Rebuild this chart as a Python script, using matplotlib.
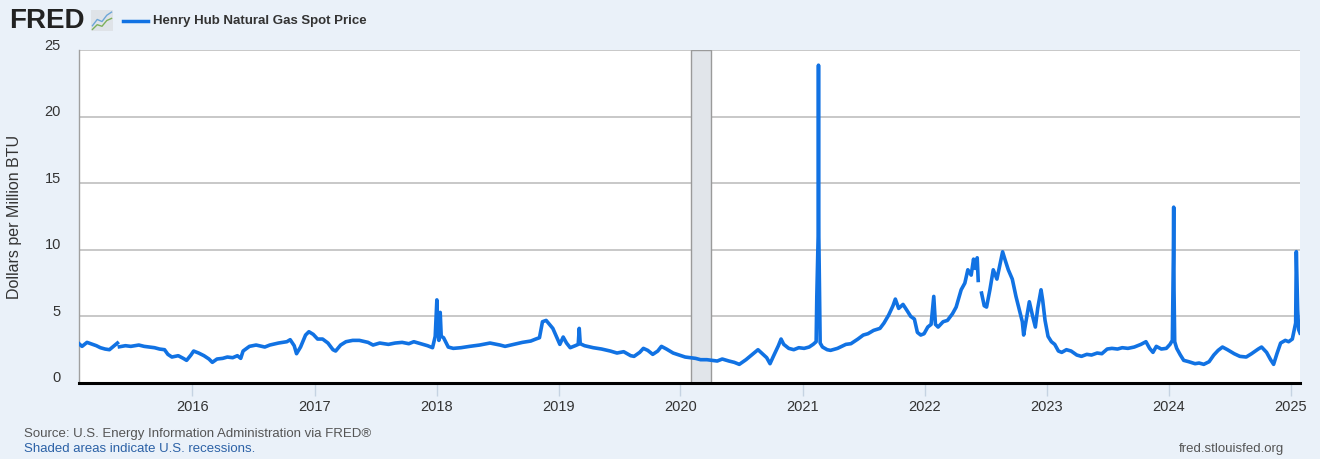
import matplotlib
matplotlib.use("Agg")
import matplotlib.pyplot as plt
import matplotlib.dates as mdates
from matplotlib.transforms import ScaledTranslation
import numpy as np
import pandas as pd

plt.rcParams['font.family'] = ['Liberation Sans', 'DejaVu Sans']

series_name = "Henry Hub Natural Gas Spot Price"
y_label = "Dollars per Million BTU"
source_text = "Source: U.S. Energy Information Administration via FRED®"
recession_note = "Shaded areas indicate U.S. recessions."
site_text = "fred.stlouisfed.org"

recession_start = "2020-02-01"
recession_end = "2020-04-01"

y_ticks = [0, 5, 10, 15, 20, 25]
x_tick_years = list(range(2016, 2026))

dates = [
    "2015-01-27", "2015-02-05", "2015-02-20", "2015-03-03", "2015-03-20", "2015-04-01", "2015-04-15", "2015-04-28",
    "2015-05-10", "2015-05-22", "2015-05-26", "2015-05-28", "2015-06-15", "2015-07-01", "2015-07-25", "2015-08-10",
    "2015-08-25", "2015-09-10", "2015-09-25", "2015-10-10", "2015-10-20", "2015-11-01", "2015-11-20", "2015-12-05",
    "2015-12-15", "2015-12-28",
    "2016-01-05", "2016-01-20", "2016-02-05", "2016-02-20", "2016-03-01", "2016-03-15", "2016-04-01", "2016-04-15",
    "2016-05-01", "2016-05-15", "2016-05-25", "2016-06-01", "2016-06-20", "2016-07-10", "2016-08-05", "2016-08-20",
    "2016-09-15", "2016-10-10", "2016-10-20", "2016-11-01", "2016-11-08", "2016-11-20", "2016-12-05", "2016-12-15",
    "2016-12-28",
    "2017-01-10", "2017-01-25", "2017-02-10", "2017-02-25", "2017-03-05", "2017-03-20", "2017-04-05", "2017-04-25",
    "2017-05-15", "2017-06-10", "2017-06-25", "2017-07-15", "2017-08-10", "2017-08-30", "2017-09-20", "2017-10-10",
    "2017-10-25", "2017-11-15", "2017-12-05", "2017-12-20", "2017-12-28",
    "2018-01-02", "2018-01-04", "2018-01-08", "2018-01-12", "2018-01-15", "2018-01-22", "2018-02-05", "2018-02-20",
    "2018-03-15", "2018-04-10", "2018-05-10", "2018-06-10", "2018-07-10", "2018-07-25", "2018-08-20", "2018-09-15",
    "2018-10-10", "2018-10-25", "2018-11-05", "2018-11-14", "2018-11-25", "2018-12-05", "2018-12-15", "2018-12-28",
    "2019-01-05", "2019-01-15", "2019-01-25", "2019-02-05", "2019-02-20", "2019-03-01", "2019-03-04", "2019-03-07",
    "2019-03-20", "2019-04-15", "2019-05-10", "2019-06-05", "2019-06-25", "2019-07-15", "2019-08-05", "2019-08-15",
    "2019-09-01", "2019-09-12", "2019-09-25", "2019-10-10", "2019-10-25", "2019-11-05", "2019-11-20", "2019-12-10",
    "2019-12-28",
    "2020-01-15", "2020-01-30", "2020-02-15", "2020-03-01", "2020-03-20", "2020-04-05", "2020-04-20", "2020-05-05",
    "2020-05-25", "2020-06-10", "2020-06-25", "2020-07-15", "2020-08-01", "2020-08-20", "2020-08-31", "2020-09-15",
    "2020-09-25", "2020-10-05", "2020-10-20", "2020-10-28", "2020-11-05", "2020-11-20", "2020-12-05", "2020-12-20",
    "2021-01-05", "2021-01-20", "2021-02-01", "2021-02-10", "2021-02-12", "2021-02-16", "2021-02-17", "2021-02-18",
    "2021-02-22", "2021-03-01", "2021-03-15", "2021-03-25", "2021-04-15", "2021-05-10", "2021-05-25", "2021-06-15",
    "2021-07-01", "2021-07-15", "2021-08-01", "2021-08-20", "2021-09-01", "2021-09-15", "2021-09-28", "2021-10-05",
    "2021-10-15", "2021-10-28", "2021-11-10", "2021-11-20", "2021-12-01", "2021-12-10", "2021-12-20", "2021-12-30",
    "2022-01-10", "2022-01-20", "2022-01-28", "2022-02-02", "2022-02-10", "2022-02-25", "2022-03-10", "2022-03-25",
    "2022-04-05", "2022-04-20", "2022-05-01", "2022-05-10", "2022-05-20", "2022-05-27", "2022-06-01", "2022-06-07",
    "2022-06-10", "2022-06-15", "2022-06-20", "2022-06-28", "2022-07-05", "2022-07-15", "2022-07-25", "2022-08-05",
    "2022-08-15", "2022-08-22", "2022-08-30", "2022-09-08", "2022-09-20", "2022-10-01", "2022-10-10", "2022-10-20",
    "2022-10-24", "2022-11-01", "2022-11-10", "2022-11-20", "2022-11-28", "2022-12-05", "2022-12-15", "2022-12-20",
    "2022-12-27",
    "2023-01-05", "2023-01-15", "2023-01-25", "2023-02-05", "2023-02-15", "2023-03-01", "2023-03-15", "2023-04-01",
    "2023-04-15", "2023-05-01", "2023-05-15", "2023-06-01", "2023-06-15", "2023-07-01", "2023-07-15", "2023-08-01",
    "2023-08-15", "2023-09-01", "2023-09-20", "2023-10-10", "2023-10-25", "2023-11-05", "2023-11-15", "2023-11-25",
    "2023-12-10", "2023-12-25",
    "2024-01-05", "2024-01-12", "2024-01-15", "2024-01-16", "2024-01-17", "2024-01-19", "2024-01-25", "2024-02-05",
    "2024-02-15", "2024-03-01", "2024-03-20", "2024-04-01", "2024-04-15", "2024-05-01", "2024-05-15", "2024-05-28",
    "2024-06-10", "2024-06-25", "2024-07-15", "2024-08-01", "2024-08-20", "2024-09-05", "2024-09-25", "2024-10-05",
    "2024-10-20", "2024-11-01", "2024-11-10", "2024-11-20", "2024-12-01", "2024-12-15", "2024-12-25",
    "2025-01-05", "2025-01-10", "2025-01-15", "2025-01-17", "2025-01-21", "2025-01-24", "2025-01-28",
]

prices = [
    2.95, 2.75, 3.05, 2.95, 2.80, 2.65, 2.55, 2.50,
    2.75, 3.00, np.nan, 2.72, 2.80, 2.75, 2.85, 2.75,
    2.70, 2.65, 2.55, 2.50, 2.15, 1.95, 2.05, 1.85,
    1.70, 2.10,
    2.40, 2.25, 2.05, 1.80, 1.55, 1.80, 1.85, 1.95,
    1.90, 2.05, 1.85, 2.40, 2.75, 2.85, 2.70, 2.85,
    3.00, 3.10, 3.25, 2.80, 2.20, 2.70, 3.60, 3.85,
    3.65,
    3.30, 3.30, 3.00, 2.50, 2.40, 2.85, 3.10, 3.20,
    3.20, 3.05, 2.85, 3.00, 2.90, 3.00, 3.05, 2.95,
    3.10, 2.95, 2.80, 2.65, 3.50,
    6.24, 4.70, 3.20, 5.30, 3.50, 3.40, 2.70, 2.60,
    2.65, 2.75, 2.85, 3.00, 2.85, 2.75, 2.90, 3.05,
    3.15, 3.30, 3.40, 4.60, 4.70, 4.40, 4.10, 3.35,
    2.90, 3.45, 3.00, 2.65, 2.80, 2.90, 4.10, 2.95,
    2.80, 2.65, 2.55, 2.40, 2.25, 2.35, 2.05, 2.00,
    2.30, 2.60, 2.45, 2.15, 2.40, 2.75, 2.55, 2.25,
    2.10,
    1.95, 1.90, 1.85, 1.75, 1.75, 1.70, 1.65, 1.80,
    1.65, 1.55, 1.40, 1.75, 2.10, 2.50, 2.25, 1.90,
    1.45, 2.00, 2.80, 3.30, 2.90, 2.60, 2.50, 2.65,
    2.60, 2.70, 2.90, 3.10, 6.50, 11.00, 23.86, 11.00,
    3.00, 2.70, 2.50, 2.45, 2.60, 2.90, 2.95, 3.30,
    3.60, 3.70, 3.95, 4.10, 4.50, 5.10, 5.80, 6.30,
    5.60, 5.90, 5.40, 5.00, 4.80, 3.80, 3.60, 3.70,
    4.20, 4.40, 6.50, 4.40, 4.20, 4.60, 4.70, 5.20,
    5.70, 7.00, 7.50, 8.50, 8.10, 9.30, 8.60, 9.40,
    7.70, np.nan, 6.75, 5.80, 5.70, 7.00, 8.50, 7.80,
    9.00, 9.85, 9.20, 8.50, 7.80, 6.50, 5.60, 4.60,
    3.60, 4.80, 6.10, 5.00, 4.20, 5.60, 7.00, 6.20,
    4.70,
    3.50, 3.10, 2.90, 2.40, 2.30, 2.50, 2.40, 2.10,
    2.00, 2.15, 2.10, 2.25, 2.20, 2.55, 2.60, 2.55,
    2.65, 2.60, 2.70, 2.90, 3.10, 2.60, 2.30, 2.75,
    2.55, 2.60,
    2.90, 3.20, 9.50, 13.20, 7.00, 3.10, 2.60, 2.10,
    1.70, 1.60, 1.45, 1.50, 1.40, 1.60, 2.10, 2.45,
    2.70, 2.50, 2.20, 2.00, 1.95, 2.20, 2.55, 2.70,
    2.30, 1.75, 1.40, 2.20, 3.00, 3.20, 3.10,
    3.30, 3.90, 4.50, 9.86, 5.50, 4.00, 3.75,
]

bg = '#eaf1f9'
line_color = '#1172e3'
text_color = '#333333'

dt = pd.to_datetime(dates)

fig = plt.figure(figsize=(13.2, 4.59), dpi=100, facecolor=bg)
ax = fig.add_axes([79 / 1320, 1 - 383 / 459, (1300 - 79) / 1320, (383 - 50) / 459])
ax.set_facecolor('white')

ax.plot(dt, prices, color=line_color, linewidth=2.6, zorder=4)

ax.axvspan(pd.Timestamp(recession_start), pd.Timestamp(recession_end),
           facecolor='#e1e5ea', edgecolor='#9a9a9a', linewidth=1.0, zorder=2)

ax.set_xlim(dt[0], dt[-1])
ax.set_ylim(0, 25)
ax.set_yticks(y_ticks)
ax.set_yticklabels([str(t) for t in y_ticks])
ax.yaxis.grid(True, color='#c4c4c4', linewidth=1.3, zorder=1)
ax.set_axisbelow(True)

ax.set_xticks([pd.Timestamp(f"{y}-01-01") for y in x_tick_years])
ax.xaxis.set_major_formatter(mdates.DateFormatter('%Y'))

for side in ['top', 'right']:
    ax.spines[side].set_visible(False)
ax.spines['left'].set_color('#a0a0a0')
ax.spines['left'].set_linewidth(1.0)
ax.spines['bottom'].set_color('black')
ax.spines['bottom'].set_linewidth(2.2)
ax.spines['bottom'].set_zorder(5)

ax.tick_params(axis='y', length=0, pad=13, labelsize=10.5, labelcolor=text_color)
ax.tick_params(axis='x', length=9, width=1, color='#c5d3e2', pad=3, labelsize=10.5, labelcolor=text_color)

offset = ScaledTranslation(0, 6 / 100, fig.dpi_scale_trans)
for lbl in ax.get_yticklabels():
    lbl.set_transform(lbl.get_transform() + offset)

ax.set_ylabel(y_label, fontsize=11.5, color=text_color)
ax.yaxis.set_label_coords((22 - 79) / (1300 - 79), 0.5)

# Header: logo text and legend
fig.text(9 / 1320, 1 - 21 / 459, "FRED", fontsize=20, fontweight='heavy', color='#222222',
         va='center', ha='left')
icon = fig.add_axes([91 / 1320, 1 - 31 / 459, 22 / 1320, 21 / 459])
icon.set_facecolor('#dfe3e8')
icon.set_xticks([]); icon.set_yticks([])
for s in icon.spines.values():
    s.set_visible(False)
icon.plot([0, 1, 2, 3, 4], [1, 2.2, 1.8, 3.0, 3.6], color='#6da6d8', linewidth=1.0)
icon.plot([0, 1, 2, 3, 4], [0.3, 1.2, 0.9, 2.0, 2.4], color='#7db05a', linewidth=1.0)
icon.set_xlim(-0.3, 4.3); icon.set_ylim(0, 4)

fig.lines.append(plt.Line2D([123 / 1320, 148 / 1320], [1 - 21 / 459, 1 - 21 / 459],
                            transform=fig.transFigure, color=line_color, linewidth=2.5))
fig.text(153 / 1320, 1 - 21 / 459, series_name, fontsize=9.5, fontweight='bold',
         color=text_color, va='center', ha='left')

# Footer
fig.text(24 / 1320, 1 - 434 / 459, source_text, fontsize=9.5, color='#555555', va='center', ha='left')
fig.text(24 / 1320, 1 - 449 / 459, recession_note, fontsize=9.5, color='#2b61a6', va='center', ha='left')
fig.text(1284 / 1320, 1 - 449 / 459, site_text, fontsize=9.5, color='#555555', va='center', ha='right')

fig.savefig('out.png', dpi=100, facecolor=bg)
